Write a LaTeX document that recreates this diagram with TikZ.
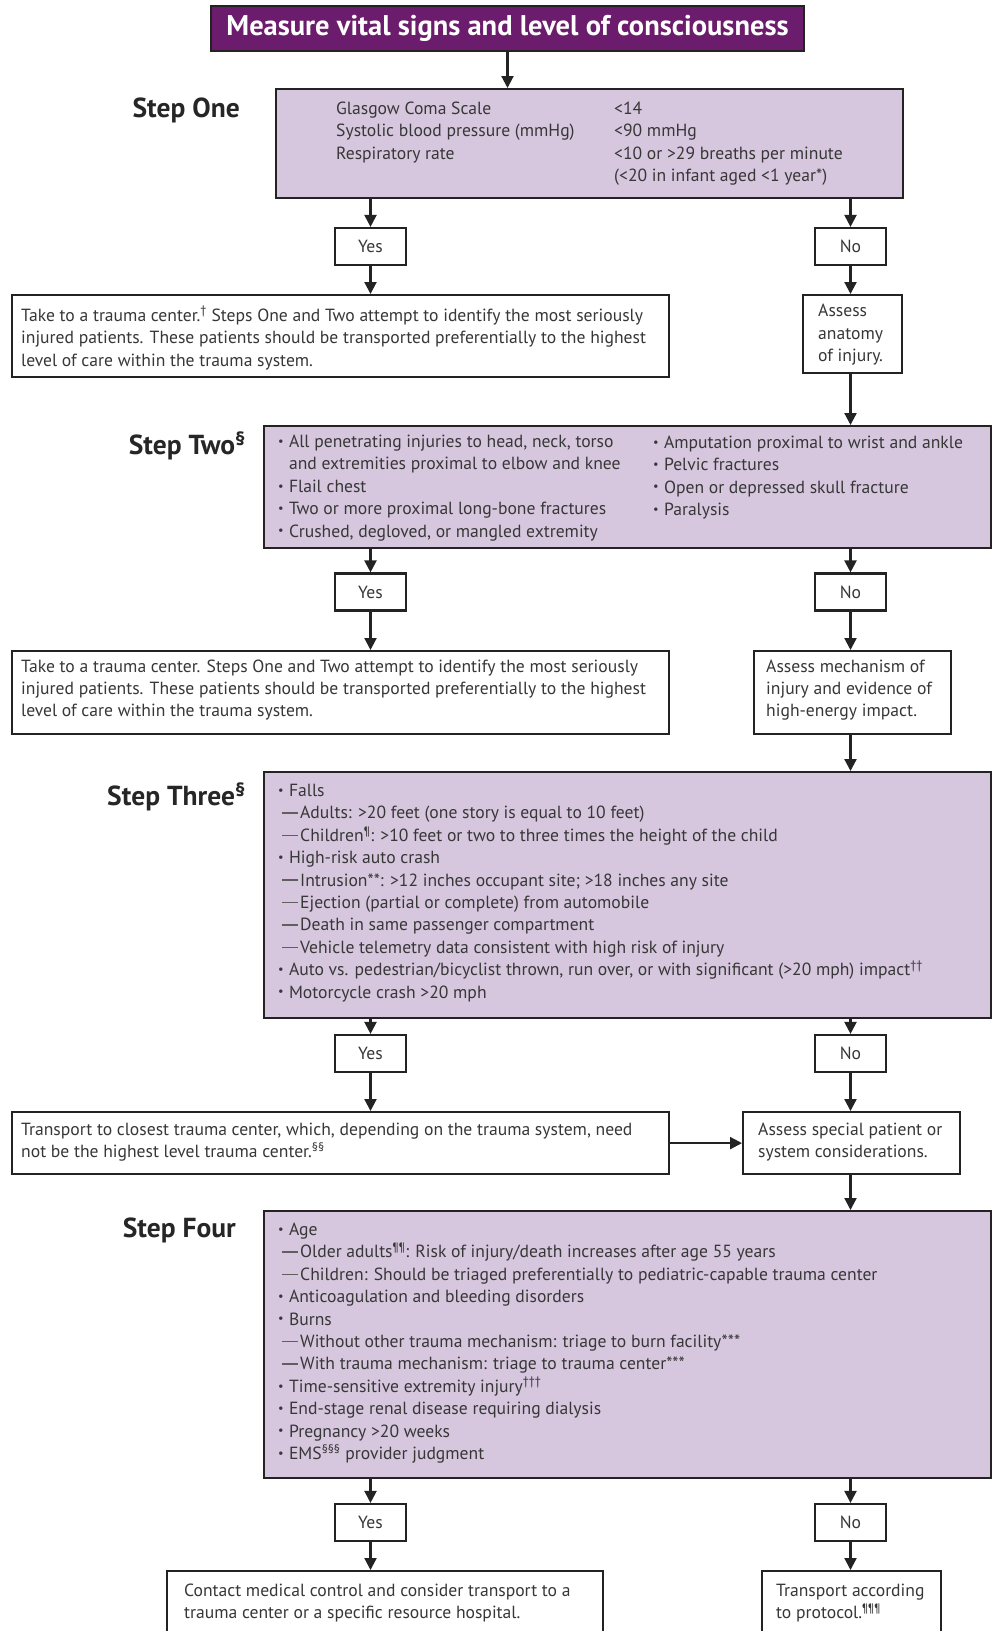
\documentclass[tikz,border=0pt]{standalone}
\usepackage{fontspec}
\setmainfont{PT Sans}
\newfontfamily\labelfont{PT Sans}
\usetikzlibrary{arrows.meta}
\definecolor{titlepurple}{RGB}{108,28,108}
\definecolor{lav}{RGB}{214,199,222}
\definecolor{txt}{RGB}{55,55,55}
\definecolor{edge}{RGB}{35,35,35}
\newcommand\mybul{\raisebox{0.25ex}{\scalebox{0.7}{•}}\hspace{0.3em}}
\newcommand\mydash{\hspace{4pt}\textcolor{txt!80}{\rule[0.3em]{16pt}{1.4pt}}\hspace{2pt}}
\begin{document}
\begin{tikzpicture}[x=1pt,y=-1pt,
  box/.style={draw=edge, line width=2.2pt, fill=white, inner sep=0pt, anchor=north west},
  stepbox/.style={box, fill=lav},
  yn/.style={draw=edge, line width=2.2pt, fill=white, inner sep=0pt, minimum width=71pt, minimum height=37pt, font=\fontsize{17.6}{22.4}\selectfont, text=txt},
  arr/.style={draw=edge, line width=2.2pt, -{Triangle[length=12pt,width=12pt]}},
  body/.style={font=\fontsize{17.6}{22.4}\selectfont, text=txt, inner sep=0pt, align=left, anchor=west},
  steplabel/.style={font=\labelfont\bfseries\fontsize{27.5}{30}\selectfont, text=black!85, inner sep=0pt, anchor=east}
]
\useasboundingbox (0,0) rectangle (992,1631);
% title
\node[draw=edge, line width=1.8pt, fill=titlepurple, text=white, minimum width=593pt, minimum height=45pt, inner sep=0pt,
  font=\labelfont\bfseries\fontsize{28.5}{30}\selectfont] (title) at (507.5,28.5) {Measure vital signs and level of consciousness};
% step one
\node[stepbox, minimum width=627pt, minimum height=109pt] (s1) at (275,88) {};
\node[steplabel] (l1) at (240,110) {Step One};
\node[body] (s1a) at (336,132.5) {Glasgow Coma Scale\\Systolic blood pressure (mmHg)\\Respiratory rate};
\node[body] (s1b) at (614,143.5) {<14\\<90 mmHg\\<10 or >29 breaths per minute\\(<20 in infant aged <1 year*)};
\node[yn] (yes1) at (370.5,246.5) {Yes};
\node[yn] (no1) at (850.5,246.5) {No};
\node[box, minimum width=657pt, minimum height=82pt] (take1) at (11,294) {};
\node[body] (take1t) at (21,338) {Take to a trauma center.\textsuperscript{†} Steps One and Two attempt to identify the most seriously\\injured patients. These patients should be transported preferentially to the highest\\level of care within the trauma system.};
\node[box, minimum width=99pt, minimum height=78pt] (anat) at (802,294) {};
\node[body] (anatt) at (818,335) {Assess\\anatomy\\of injury.};
% step two
\node[stepbox, minimum width=727pt, minimum height=122pt] (s2) at (263,425) {};
\node[steplabel] (l2) at (246,446) {Step Two\textsuperscript{§}};
\node[body] (s2a) at (278,488) {\mybul All penetrating injuries to head, neck, torso\\\phantom{\mybul}and extremities proximal to elbow and knee\\\mybul Flail chest\\\mybul Two or more proximal long-bone fractures\\\mybul Crushed, degloved, or mangled extremity};
\node[body] (s2b) at (653,477.5) {\mybul Amputation proximal to wrist and ankle\\\mybul Pelvic fractures\\\mybul Open or depressed skull fracture\\\mybul Paralysis};
\node[yn] (yes2) at (370.5,592) {Yes};
\node[yn] (no2) at (850.5,592) {No};
\node[box, minimum width=657pt, minimum height=83pt] (take2) at (11,650) {};
\node[body] (take2t) at (21,690) {Take to a trauma center. Steps One and Two attempt to identify the most seriously\\injured patients. These patients should be transported preferentially to the highest\\level of care within the trauma system.};
\node[box, minimum width=197pt, minimum height=83pt] (mech) at (753,650) {};
\node[body] (mecht) at (766,690) {Assess mechanism of\\injury and evidence of\\high-energy impact.};
% step three
\node[stepbox, minimum width=727pt, minimum height=246pt] (s3) at (263,771) {};
\node[steplabel] (l3) at (246,797) {Step Three\textsuperscript{§}};
\node[body] (s3t) at (278,893) {\mybul Falls\\\mydash Adults: >20 feet (one story is equal to 10 feet)\\\mydash Children\textsuperscript{¶}: >10 feet or two to three times the height of the child\\\mybul High-risk auto crash\\\mydash Intrusion**: >12 inches occupant site; >18 inches any site\\\mydash Ejection (partial or complete) from automobile\\\mydash Death in same passenger compartment\\\mydash Vehicle telemetry data consistent with high risk of injury\\\mybul Auto vs. pedestrian/bicyclist thrown, run over, or with significant (>20 mph) impact\textsuperscript{††}\\\mybul Motorcycle crash >20 mph};
\node[yn] (yes3) at (370.5,1053.5) {Yes};
\node[yn] (no3) at (850.5,1053.5) {No};
\node[box, minimum width=657pt, minimum height=62pt] (trans) at (11,1111) {};
\node[body] (transt) at (21,1142) {Transport to closest trauma center, which, depending on the trauma system, need\\not be the highest level trauma center.\textsuperscript{§§}};
\node[box, minimum width=217pt, minimum height=62pt] (spec) at (742,1111) {};
\node[body] (spect) at (758,1142) {Assess special patient or\\system considerations.};
% step four
\node[stepbox, minimum width=727pt, minimum height=267pt] (s4) at (263,1210) {};
\node[steplabel] (l4) at (236,1230) {Step Four};
\node[body] (s4t) at (278,1343) {\mybul Age\\\mydash Older adults\textsuperscript{¶¶}: Risk of injury/death increases after age 55 years\\\mydash Children: Should be triaged preferentially to pediatric-capable trauma center\\\mybul Anticoagulation and bleeding disorders\\\mybul Burns\\\mydash Without other trauma mechanism: triage to burn facility***\\\mydash With trauma mechanism: triage to trauma center***\\\mybul Time-sensitive extremity injury\textsuperscript{†††}\\\mybul End-stage renal disease requiring dialysis\\\mybul Pregnancy >20 weeks\\\mybul EMS\textsuperscript{§§§} provider judgment};
\node[yn] (yes4) at (370.5,1522.5) {Yes};
\node[yn] (no4) at (850.5,1522.5) {No};
\node[box, minimum width=436pt, minimum height=100pt] (contact) at (166,1570) {};
\node[body] (contactt) at (184,1603) {Contact medical control and consider transport to a\\trauma center or a specific resource hospital.};
\node[box, minimum width=179pt, minimum height=100pt] (proto) at (761,1570) {};
\node[body] (protot) at (776,1603) {Transport according\\to protocol.\textsuperscript{¶¶¶}};
% connectors
\draw[arr] (title.south) -- (title.south |- s1.north);
\draw[arr] (yes1.north |- s1.south) -- (yes1.north);
\draw[arr] (no1.north |- s1.south) -- (no1.north);
\draw[arr] (yes1.south) -- (yes1.south |- take1.north);
\draw[arr] (no1.south) -- (no1.south |- anat.north);
\draw[arr] (no1.south |- anat.south) -- (no1.south |- s2.north);
\draw[arr] (yes2.north |- s2.south) -- (yes2.north);
\draw[arr] (no2.north |- s2.south) -- (no2.north);
\draw[arr] (yes2.south) -- (yes2.south |- take2.north);
\draw[arr] (no2.south) -- (no2.south |- mech.north);
\draw[arr] (no2.south |- mech.south) -- (no2.south |- s3.north);
\draw[arr] (yes3.north |- s3.south) -- (yes3.north);
\draw[arr] (no3.north |- s3.south) -- (no3.north);
\draw[arr] (yes3.south) -- (yes3.south |- trans.north);
\draw[arr] (no3.south) -- (no3.south |- spec.north);
\draw[arr] (trans.east) -- (spec.west);
\draw[arr] (no3.south |- spec.south) -- (no3.south |- s4.north);
\draw[arr] (yes4.north |- s4.south) -- (yes4.north);
\draw[arr] (no4.north |- s4.south) -- (no4.north);
\draw[arr] (yes4.south) -- (yes4.south |- contact.north);
\draw[arr] (no4.south) -- (no4.south |- proto.north);
\end{tikzpicture}
\end{document}
